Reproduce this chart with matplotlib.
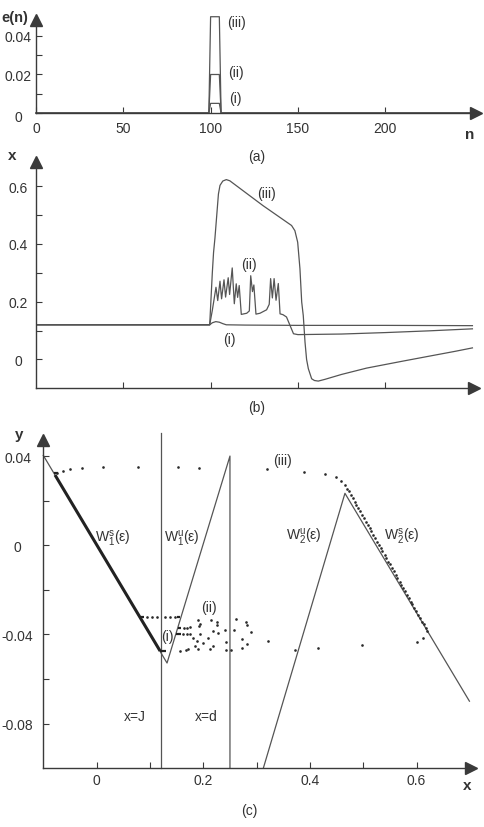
import matplotlib
matplotlib.use('Agg')
import matplotlib.pyplot as plt
import matplotlib.transforms as mtrans

plt.rcParams['font.family'] = ['Liberation Sans', 'DejaVu Sans']
plt.rcParams['mathtext.fontset'] = 'custom'
plt.rcParams['mathtext.rm'] = 'Liberation Sans'
plt.rcParams['mathtext.it'] = 'Liberation Sans:italic'
plt.rcParams['mathtext.bf'] = 'Liberation Sans:bold'

TXT = '#333333'
AXC = '#3a3a3a'
LN = '#555555'

# ---------------- data: panel (a) ----------------
n_a = [0, 99, 100, 105, 106, 250]
e_i = [0, 0, 0.005, 0.005, 0, 0]
e_ii = [0, 0, 0.02, 0.02, 0, 0]
e_iii = [0, 0, 0.05, 0.05, 0, 0]

# ---------------- data: panel (b) ----------------
n_bi = [0, 99.5, 101, 103, 105, 107, 109, 120, 150, 200, 250]
x_bi = [0.120, 0.120, 0.127, 0.131, 0.129, 0.124, 0.120, 0.119, 0.118, 0.118, 0.117]

n_bii = [0, 99.5, 101, 103.1, 104.1, 105.4, 106.3, 107.7, 108.6, 110.1, 110.9, 112.4,
         113.6, 114.7, 115.5, 116.4, 117.6, 120.7, 122.2, 123.0, 124.0, 124.8, 126.0,
         128.3, 132.1, 133.6, 134.4, 135.4, 136.4, 137.5, 138.8, 139.8, 141.5, 143.5,
         145.5, 147.5, 150, 175, 200, 225, 250]
x_bii = [0.120, 0.120, 0.170, 0.250, 0.204, 0.271, 0.210, 0.276, 0.216, 0.283, 0.225, 0.317,
         0.193, 0.262, 0.215, 0.256, 0.156, 0.160, 0.168, 0.290, 0.235, 0.258, 0.157,
         0.160, 0.172, 0.191, 0.280, 0.213, 0.280, 0.205, 0.263, 0.158, 0.155, 0.147,
         0.118, 0.089, 0.086, 0.088, 0.093, 0.099, 0.106]

n_biii = [0, 99.5, 101, 101.7, 102.5, 104.5, 105.4, 107, 109, 111, 130, 146.4, 148.3,
          149.9, 151.2, 152.2, 153.1, 154.1, 155, 156, 157.9, 159.5, 161.7, 165.5, 175,
          189.4, 210, 227.6, 240, 250]
x_biii = [0.120, 0.120, 0.300, 0.370, 0.420, 0.573, 0.603, 0.618, 0.623, 0.619, 0.533,
          0.464, 0.446, 0.406, 0.314, 0.199, 0.152, 0.060, 0.0, -0.032, -0.067, -0.073,
          -0.075, -0.069, -0.052, -0.030, -0.006, 0.014, 0.028, 0.040]

# ---------------- data: panel (c) ----------------
J_val, d_val = 0.12, 0.25
W1_x = [-0.1, 0.132, 0.25, 0.25]
W1_y = [0.0403, -0.0528, 0.04, -0.1]
W2_x = [0.3125, 0.4656, 0.699]
W2_y = [-0.1, 0.0233, -0.0699]
thick_x = [-0.078, 0.119]
thick_y = [0.0315, -0.0474]

# short thick orbit segments (x0, x1, y)
seg_x0 = [0.119, 0.0823, 0.150, 0.152, 0.1485, -0.079]
seg_x1 = [0.131, 0.0890, 0.157, 0.159, 0.158, -0.072]
seg_y = [-0.0474, -0.0320, -0.0320, -0.0369, -0.0399, 0.0322]

orb_i_x = [0.094, 0.103, 0.1125, 0.128, 0.1375, 0.147, 0.163, 0.169, 0.175, 0.162, 0.169, 0.175]
orb_i_y = [-0.032, -0.032, -0.032, -0.032, -0.032, -0.0322, -0.0369, -0.0369, -0.0366,
           -0.0399, -0.0399, -0.0397]

orb_ii_x = [0.1906, 0.1937, 0.1918, 0.2143, 0.225, 0.2256, 0.2606, 0.2794, 0.2812, 0.2575,
            0.2894, 0.2719, 0.2812, 0.2719, 0.2425, 0.2418, 0.2512, 0.1812, 0.1937, 0.2081,
            0.2175, 0.2269, 0.1875, 0.2, 0.2187, 0.2125, 0.1906, 0.1844, 0.1562, 0.1675,
            0.172, 0.2406]
orb_ii_y = [-0.0336, -0.0351, -0.0362, -0.0335, -0.0344, -0.0359, -0.0330, -0.0344, -0.0357,
            -0.0381, -0.0389, -0.0422, -0.0444, -0.0459, -0.0433, -0.0471, -0.0471, -0.0414,
            -0.0399, -0.0418, -0.0384, -0.0395, -0.0429, -0.0436, -0.0451, -0.0466, -0.0466,
            -0.0451, -0.0474, -0.0469, -0.0463, -0.0378]

orb_iii_x = [-0.075, -0.0626, -0.050, -0.028, 0.0124, 0.078, 0.152, 0.192, 0.319, 0.389,
             0.428, 0.449, 0.459,
             0.466, 0.470, 0.473, 0.477, 0.480, 0.484, 0.487, 0.491, 0.494, 0.498, 0.501,
             0.505, 0.508, 0.512, 0.515, 0.519, 0.522, 0.526, 0.529, 0.533, 0.536, 0.540,
             0.543, 0.547, 0.550, 0.554, 0.557, 0.561, 0.564, 0.568, 0.571, 0.575, 0.578,
             0.582, 0.585, 0.589, 0.592, 0.596, 0.599, 0.603, 0.606, 0.610, 0.613, 0.617,
             0.620,
             0.6125, 0.601, 0.497, 0.416, 0.372, 0.3206]
orb_iii_y = [0.0326, 0.0333, 0.0340, 0.0346, 0.0352, 0.0352, 0.0352, 0.0348, 0.0341, 0.0330,
             0.0318, 0.0304, 0.0288,
             0.0271, 0.0254, 0.0242, 0.0225, 0.0212, 0.0195, 0.0182, 0.0165, 0.0152, 0.0135,
             0.0122, 0.0105, 0.0093, 0.0076, 0.0063, 0.0046, 0.0033, 0.0016, 0.0003, -0.0014,
             -0.0027, -0.0044, -0.0057, -0.0074, -0.0086, -0.0103, -0.0116, -0.0133, -0.0146,
             -0.0163, -0.0176, -0.0193, -0.0206, -0.0223, -0.0236, -0.0253, -0.0265, -0.0282,
             -0.0295, -0.0312, -0.0325, -0.0342, -0.0355, -0.0372, -0.0385,
             -0.0414, -0.0434, -0.0447, -0.0459, -0.0469, -0.0430]

# ---------------- figure ----------------
W, H = 484, 828
fig = plt.figure(figsize=(4.84, 8.28), dpi=100)


def ftext(x, y, s, **kw):
    kw.setdefault('ha', 'center')
    kw.setdefault('va', 'center')
    kw.setdefault('fontsize', 10)
    kw.setdefault('color', TXT)
    fig.text(x / W, 1 - y / H, s, **kw)


def style(ax, xt, xtl, xmin, yt, ytl, ymin, ypad, xpad):
    for s in ['top', 'right']:
        ax.spines[s].set_visible(False)
    for s in ['left', 'bottom']:
        ax.spines[s].set_color(AXC)
        ax.spines[s].set_linewidth(1.0)
    ax.set_xticks(xt)
    ax.set_xticklabels(xtl)
    ax.set_yticks(yt)
    ax.set_yticklabels(ytl)
    ax.set_xticks(xmin, minor=True)
    ax.set_yticks(ymin, minor=True)
    ax.tick_params(which='both', direction='in', length=4, width=0.8, color=AXC,
                   labelsize=10, labelcolor=TXT)
    ax.tick_params(axis='y', which='both', pad=ypad)
    ax.tick_params(axis='x', which='both', pad=xpad)
    for lab in ax.get_yticklabels():
        lab.set_ha('center')
    ax.plot(1, 0, '>', ms=9, color=AXC, transform=ax.transAxes, clip_on=False)
    ax.plot(0, 1, '^', ms=9, color=AXC, transform=ax.transAxes, clip_on=False)
    ax.set_facecolor('none')


# panel (a)
axa = fig.add_axes([36 / W, (828 - 114) / H, 440 / W, 93 / H])
axa.set_xlim(0, 252)
axa.set_ylim(0, 0.0483)
for e in (e_i, e_ii, e_iii):
    axa.plot(n_a, e, color=LN, lw=0.9, clip_on=False)
style(axa, [0, 50, 100, 150, 200], ['0', '50', '100', '150', '200'], [],
      [0, 0.02, 0.04], ['0', '0.02', '0.04'], [0.01, 0.03], 13, 5.5)
# the "0" label of (a) sits a little lower than its tick in the reference
lab0 = axa.get_yticklabels()[0]
lab0.set_transform(lab0.get_transform() + mtrans.ScaledTranslation(0, -3 / 100, fig.dpi_scale_trans))
ftext(227, 22.7, '(iii)', ha='left')
ftext(228.5, 72.7, '(ii)', ha='left')
ftext(229, 99, '(i)', ha='left')
ftext(256.7, 156.7, '(a)')
ftext(1, 18, 'e(n)', ha='left', fontweight='bold', fontsize=10.5)
ftext(470, 135, 'n', fontweight='bold', fontsize=11)

# panel (b)
axb = fig.add_axes([36 / W, (828 - 389.3) / H, 438 / W, 226.3 / H])
axb.set_xlim(0, 250.9)
axb.set_ylim(-0.1, 0.684)
axb.plot(n_bi, x_bi, color=LN, lw=0.9)
axb.plot(n_bii, x_bii, color=LN, lw=0.9)
axb.plot(n_biii, x_biii, color=LN, lw=0.9)
style(axb, [50, 100, 150, 200], ['', '', '', ''], [],
      [0, 0.2, 0.4, 0.6], ['0', '0.2', '0.4', '0.6'], [0.1, 0.3, 0.5], 13, 5.5)
ftext(266.7, 194, '(iii)')
ftext(248.7, 265, '(ii)')
ftext(229.7, 340, '(i)')
ftext(256.7, 408.3, '(b)')
ftext(11.7, 155.7, 'x', fontweight='bold', fontsize=11)

# panel (c)
axc = fig.add_axes([43.3 / W, (828 - 769.3) / H, 427.4 / W, 328.3 / H])
axc.set_xlim(-0.1, 0.7014)
axc.set_ylim(-0.1, 0.0472)
axc.plot(W1_x, W1_y, color=LN, lw=0.9, clip_on=False)
axc.plot([J_val, J_val], [-0.1, 0.0505], color=LN, lw=0.9, clip_on=False)
axc.plot(W2_x, W2_y, color=LN, lw=0.9)
axc.plot(thick_x, thick_y, color='#222222', lw=2.2, solid_capstyle='butt')
for x0, x1, y in zip(seg_x0, seg_x1, seg_y):
    axc.plot([x0, x1], [y, y], color='#222222', lw=1.6, solid_capstyle='butt')
for xs, ys in ((orb_i_x, orb_i_y), (orb_ii_x, orb_ii_y), (orb_iii_x, orb_iii_y)):
    axc.plot(xs, ys, 'o', ms=1.9, mew=0, color='#2a2a2a', clip_on=False)
style(axc, [0, 0.2, 0.4, 0.6], ['0', '0.2', '0.4', '0.6'], [0.1, 0.3, 0.5],
      [-0.08, -0.04, 0, 0.04], ['-0.08', '-0.04', '0', '0.04'], [-0.06, -0.02, 0.02],
      18.5, 3.5)

ftext(19.5, 435, 'y', fontweight='bold', fontsize=11)
ftext(466.7, 786, 'x', fontweight='bold', fontsize=11)
ftext(282.8, 460.7, '(iii)')
ftext(113.3, 539, r'W$_{\mathrm{1}}^{\mathrm{s}}$(ε)')
ftext(182.2, 539, r'W$_{\mathrm{1}}^{\mathrm{u}}$(ε)')
ftext(304.3, 537.3, r'W$_{\mathrm{2}}^{\mathrm{u}}$(ε)')
ftext(402.2, 537.3, r'W$_{\mathrm{2}}^{\mathrm{s}}$(ε)')
ftext(208.8, 608.3, '(ii)')
ftext(167.5, 636.7, '(i)')
ftext(135, 716.7, 'x=J')
ftext(206.3, 716.7, 'x=d')
ftext(249.3, 810.7, '(c)')

fig.savefig('out.png', dpi=100, facecolor='white')
